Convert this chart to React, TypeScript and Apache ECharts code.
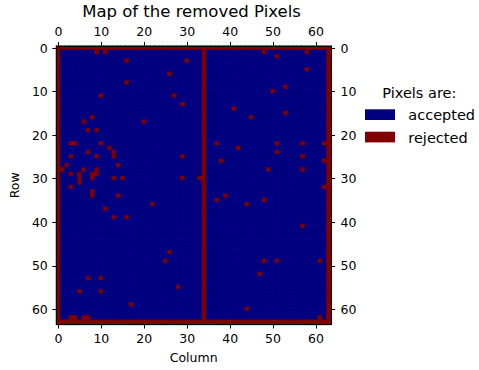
import React, { useEffect, useRef } from "react";
import * as echarts from "echarts";

// Grid size of the detector map (columns x rows)
const GRID_SIZE = 64;
const categories: string[] = Array.from({ length: GRID_SIZE }, (_, i) => String(i));
const tickValues = [0, 10, 20, 30, 40, 50, 60];

// Whole rows / columns that were removed
const rejectedRows = [0, 63];
const rejectedCols = [0, 34, 63];

// Individual removed pixels as [column, row]
const rejectedPixels: [number, number][] = [
  [9, 1], [11, 1], [16, 3], [30, 3], [26, 6], [16, 8], [10, 11], [27, 11], [29, 13],
  [8, 16], [6, 17], [20, 17], [7, 19], [9, 19], [3, 22], [4, 22], [10, 22], [12, 23],
  [7, 24], [13, 24], [13, 25], [3, 25], [9, 25], [29, 25], [2, 27], [14, 27], [1, 28],
  [6, 28], [9, 28], [3, 29], [5, 29], [8, 29], [9, 29], [5, 30], [8, 30], [13, 30],
  [15, 30], [29, 30], [33, 30], [5, 31], [3, 32], [8, 33], [8, 34], [14, 34], [22, 36],
  [11, 37], [13, 39], [16, 39], [26, 47], [25, 49], [7, 53], [10, 53], [28, 55], [5, 56],
  [10, 56], [17, 59], [3, 62], [4, 62], [6, 62], [7, 62],
  [48, 1], [51, 2], [58, 1], [58, 5], [53, 9], [50, 10], [41, 14], [53, 15], [45, 16],
  [37, 22], [42, 23], [51, 22], [51, 24], [57, 22], [57, 25], [62, 22], [62, 26], [38, 26],
  [49, 28], [57, 28], [62, 32], [39, 34], [37, 35], [48, 35], [44, 36], [57, 41], [48, 49],
  [51, 49], [61, 49], [47, 52], [44, 60], [61, 62],
];

const statusLabels = ["accepted", "rejected"];
const statusColors = ["#000080", "#800000"];

const FONT = "DejaVu Sans";

function buildCells() {
  const rejected = new Set<string>();
  rejectedPixels.forEach(([c, r]) => rejected.add(c + "," + r));
  const cells: any[] = [];
  for (let r = 0; r < GRID_SIZE; r++) {
    for (let c = 0; c < GRID_SIZE; c++) {
      const bad =
        rejectedRows.includes(r) || rejectedCols.includes(c) || rejected.has(c + "," + r);
      const status = bad ? 1 : 0;
      // a thin border in the cell's own colour closes the anti-aliasing seams
      cells.push({
        value: [c, r, status],
        itemStyle: { borderColor: statusColors[status], borderWidth: 0.6 },
      });
    }
  }
  return cells;
}

const showTick = (index: number) => tickValues.includes(index);

function categoryAxis(position: string, margin: number, extra: any = {}) {
  return {
    type: "category",
    data: categories,
    position,
    boundaryGap: true,
    z: 5,
    axisLine: { show: true, onZero: false, lineStyle: { color: "#000", width: 1 } },
    axisTick: {
      show: true,
      interval: showTick,
      alignWithLabel: true,
      length: 4,
      lineStyle: { color: "#000", width: 1 },
    },
    axisLabel: {
      interval: showTick,
      color: "#000",
      fontSize: 12.5,
      fontFamily: FONT,
      margin,
    },
    splitLine: { show: false },
    ...extra,
  };
}

export default function App() {
  const ref = useRef<HTMLDivElement>(null);

  useEffect(() => {
    document.body.style.margin = "0";
    if (!ref.current) return;
    const chart = echarts.init(ref.current, undefined, { renderer: "svg" });

    const legendX = 365;
    const option: any = {
      animation: false,
      backgroundColor: "#fff",
      textStyle: { fontFamily: FONT },
      grid: { left: 52, top: 46, width: 279, height: 278.5, containLabel: false },
      xAxis: [
        categoryAxis("bottom", 7, {
          name: "Column",
          nameLocation: "middle",
          nameGap: 26,
          nameTextStyle: { color: "#000", fontSize: 12.5, fontFamily: FONT },
        }),
        categoryAxis("top", 8),
      ],
      yAxis: [
        categoryAxis("left", 8.5, {
          inverse: true,
          name: "Row",
          nameLocation: "middle",
          nameRotate: 90,
          nameGap: 29,
          nameTextStyle: { color: "#000", fontSize: 12.5, fontFamily: FONT },
        }),
        categoryAxis("right", 9.5, { inverse: true }),
      ],
      visualMap: {
        type: "piecewise",
        show: false,
        dimension: 2,
        seriesIndex: 0,
        pieces: [
          { value: 0, color: statusColors[0] },
          { value: 1, color: statusColors[1] },
        ],
      },
      series: [
        {
          type: "heatmap",
          xAxisIndex: 0,
          yAxisIndex: 0,
          data: buildCells(),
          progressive: 0,
          emphasis: { disabled: true },
        },
      ],
      graphic: [
        {
          type: "text",
          x: 191.5,
          y: 11.3,
          style: {
            text: "Map of the removed Pixels",
            fill: "#000",
            font: `16.5px "${FONT}"`,
            textAlign: "center",
            textVerticalAlign: "middle",
          },
        },
        {
          type: "text",
          x: 382.3,
          y: 93,
          style: {
            text: "Pixels are:",
            fill: "#000",
            font: `14.5px "${FONT}"`,
            textAlign: "left",
            textVerticalAlign: "middle",
          },
        },
        ...statusLabels.flatMap((label, i) => [
          {
            type: "rect",
            shape: { x: legendX, y: 109.3 + i * 22.4, width: 30, height: 10.7 },
            style: { fill: statusColors[i] },
          },
          {
            type: "text",
            x: 408.3,
            y: 115.3 + i * 22.2,
            style: {
              text: label,
              fill: "#000",
              font: `14.5px "${FONT}"`,
              textAlign: "left",
              textVerticalAlign: "middle",
            },
          },
        ]),
      ],
    };

    chart.setOption(option);
    return () => chart.dispose();
  }, []);

  return <div ref={ref} style={{ width: 479, height: 370 }} />;
}
